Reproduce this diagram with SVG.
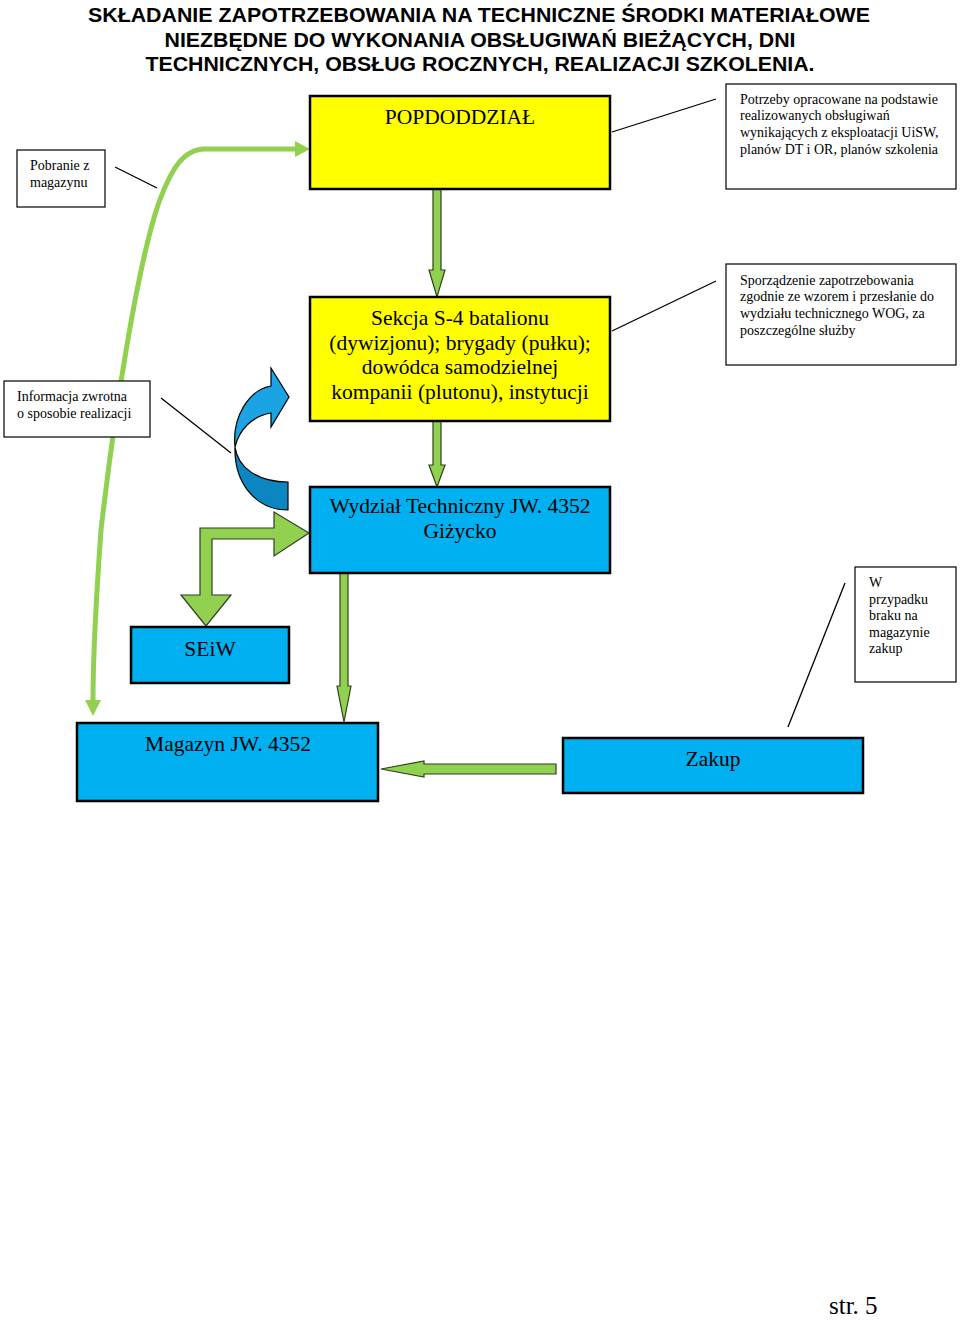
<svg xmlns="http://www.w3.org/2000/svg" width="960" height="1321" viewBox="0 0 960 1321">
<style>
.title{font-family:"Liberation Sans",Arial,sans-serif;font-weight:bold;font-size:20px;fill:#000;text-anchor:middle}
.note{fill:#fff;stroke:#000;stroke-width:1.2}
.nt{font-family:"Liberation Serif","Times New Roman",serif;font-size:14px;fill:#000}
.big{font-family:"Liberation Serif","Times New Roman",serif;font-size:21.5px;fill:#000;text-anchor:middle}
.yel{fill:#FFFF00;stroke:#000;stroke-width:2.5}
.blu{fill:#00B0F0;stroke:#000;stroke-width:2.5}
.garr{fill:#92D050;stroke:#2f3f20;stroke-width:1.2;stroke-linejoin:miter}
.lead{stroke:#000;stroke-width:1.3;fill:none}
</style>
<rect width="960" height="1321" fill="#fff"/>
<g id="title">
<text class="title" x="479" y="22" textLength="782" lengthAdjust="spacingAndGlyphs">SKŁADANIE ZAPOTRZEBOWANIA NA TECHNICZNE ŚRODKI MATERIAŁOWE</text>
<text class="title" x="480" y="47" textLength="631" lengthAdjust="spacingAndGlyphs">NIEZBĘDNE DO WYKONANIA OBSŁUGIWAŃ BIEŻĄCYCH, DNI</text>
<text class="title" x="480" y="71" textLength="669" lengthAdjust="spacingAndGlyphs">TECHNICZNYCH, OBSŁUG ROCZNYCH, REALIZACJI SZKOLENIA.</text>
</g>
<g id="connectors">
<path d="M 297,149 L 205,149 C 182,149 170,172 158,205 C 138,265 116,400 101,530 C 96,600 93,650 93,700" fill="none" stroke="#92D050" stroke-width="5"/>
<polygon points="295,141 310,149 295,157" fill="#92D050"/>
<polygon points="85,700 101,700 93,716" fill="#92D050"/>
<path class="garr" d="M 433,189 L 441,189 L 441,270 L 445,270 L 437,297 L 429,270 L 433,270 Z"/>
<path class="garr" d="M 433,421 L 441,421 L 441,465 L 445,465 L 437,487 L 429,465 L 433,465 Z"/>
<path class="garr" d="M 340,573 L 348,573 L 348,686 L 351,686 L 344,722 L 337,686 L 340,686 Z"/>
<path class="garr" d="M 200,595 L 200,528 L 274,528 L 274,512 L 309,533 L 274,556 L 274,539 L 212,539 L 212,595 L 231,595 L 206,626 L 181,595 Z"/>
<path class="garr" d="M 556,764 L 424,764 L 424,761 L 381,769 L 424,777 L 424,774 L 556,774 Z"/>
<path d="M 271,386 L 271,368 L 289,397 L 271,427 L 271,413 C 252,416 239,430 235,447 C 232,418 248,390 271,386 Z" fill="#1BA3E3" stroke="#000" stroke-width="1.2"/>
<path d="M 235,447 C 238,468 258,482 288,482 L 288,510 C 255,510 234,482 235,447 Z" fill="#0C86C0" stroke="#000" stroke-width="1.2"/>
<line class="lead" x1="115" y1="167" x2="157" y2="188"/>
<line class="lead" x1="612" y1="132" x2="716" y2="99"/>
<line class="lead" x1="612" y1="331" x2="716" y2="281"/>
<line class="lead" x1="161" y1="398" x2="231" y2="453"/>
<line class="lead" x1="845" y1="583" x2="788" y2="727"/>
</g>
<g id="pobranie">
<rect class="note" x="17" y="150" width="88" height="57"/>
<text class="nt" x="30" y="170">Pobranie z</text>
<text class="nt" x="30" y="187">magazynu</text>
</g>
<g id="popdoddzial">
<rect class="yel" x="310" y="96" width="300" height="93"/>
<text class="big" x="460" y="124">POPDODDZIAŁ</text>
</g>
<g id="potrzeby">
<rect class="note" x="726" y="84" width="230" height="105"/>
<text class="nt" x="740" y="104">Potrzeby opracowane na podstawie</text>
<text class="nt" x="740" y="120">realizowanych obsługiwań</text>
<text class="nt" x="740" y="137">wynikających z eksploatacji UiSW,</text>
<text class="nt" x="740" y="154">planów DT i OR, planów szkolenia</text>
</g>
<g id="sekcja">
<rect class="yel" x="310" y="297" width="300" height="124"/>
<text class="big" x="460" y="325">Sekcja S-4 batalionu</text>
<text class="big" x="460" y="350">(dywizjonu); brygady (pułku);</text>
<text class="big" x="460" y="374">dowódca samodzielnej</text>
<text class="big" x="460" y="399">kompanii (plutonu), instytucji</text>
</g>
<g id="sporzadzenie">
<rect class="note" x="726" y="264" width="230" height="101"/>
<text class="nt" x="740" y="285">Sporządzenie zapotrzebowania</text>
<text class="nt" x="740" y="301">zgodnie ze wzorem i przesłanie do</text>
<text class="nt" x="740" y="318">wydziału technicznego WOG, za</text>
<text class="nt" x="740" y="335">poszczególne służby</text>
</g>
<g id="informacja">
<rect class="note" x="4" y="381" width="146" height="56"/>
<text class="nt" x="17" y="401">Informacja zwrotna</text>
<text class="nt" x="17" y="418">o sposobie realizacji</text>
</g>
<g id="wydzial">
<rect class="blu" x="310" y="487" width="300" height="86"/>
<text class="big" x="460" y="513">Wydział Techniczny JW. 4352</text>
<text class="big" x="460" y="538">Giżycko</text>
</g>
<g id="seiw">
<rect class="blu" x="131" y="627" width="158" height="56"/>
<text class="big" x="210" y="656">SEiW</text>
</g>
<g id="przypadek">
<rect class="note" x="855" y="567" width="101" height="115"/>
<text class="nt" x="869" y="587">W</text>
<text class="nt" x="869" y="604">przypadku</text>
<text class="nt" x="869" y="620">braku na</text>
<text class="nt" x="869" y="637">magazynie</text>
<text class="nt" x="869" y="653">zakup</text>
</g>
<g id="magazyn">
<rect class="blu" x="77" y="723" width="301" height="78"/>
<text class="big" x="228" y="751">Magazyn JW. 4352</text>
</g>
<g id="zakup">
<rect class="blu" x="563" y="738" width="300" height="55"/>
<text class="big" x="713" y="766">Zakup</text>
</g>
<text x="829" y="1314" font-family="'Liberation Serif','Times New Roman',serif" font-size="25" fill="#000">str. 5</text>
</svg>
